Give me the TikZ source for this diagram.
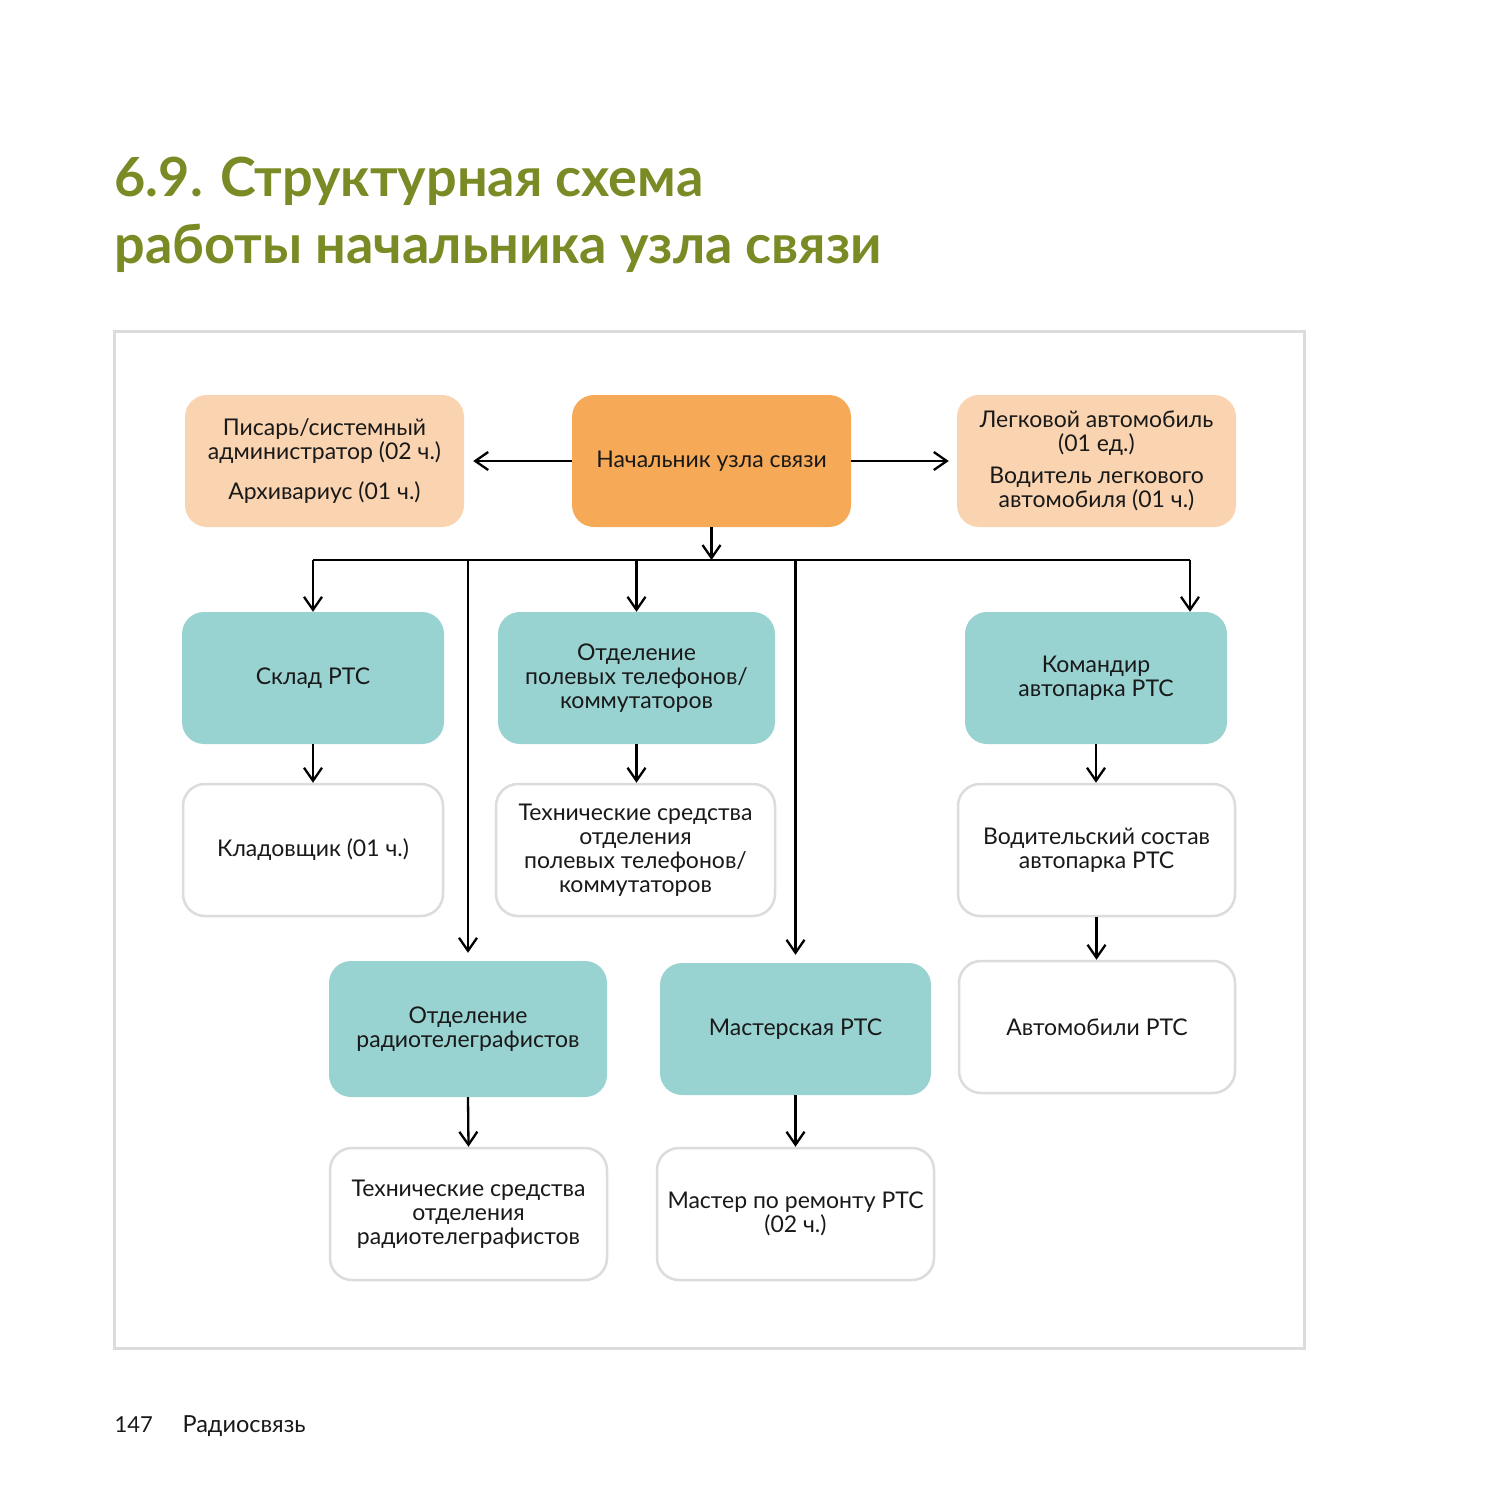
\documentclass[tikz,border=0pt]{standalone}
\usepackage{fontspec}
\setmainfont{Lato}
\usetikzlibrary{arrows.meta}
\definecolor{titlegreen}{RGB}{122,139,38}
\definecolor{chieforange}{RGB}{246,170,88}
\definecolor{peach}{RGB}{250,212,176}
\definecolor{unitteal}{RGB}{152,211,209}
\definecolor{framegray}{RGB}{220,220,220}
\definecolor{ink}{RGB}{25,25,25}

\begin{document}
\begin{tikzpicture}[x=1pt,y=-1pt,
  box/.style={rounded corners=22pt,minimum height=132pt,inner sep=0pt,align=center,
    text=ink,font=\fontsize{23}{24}\selectfont},
  chief/.style={box,fill=chieforange},
  side/.style={box,fill=peach},
  unit/.style={box,fill=unitteal},
  staff/.style={box,draw=framegray,line width=2.5pt,fill=white},
  link/.style={line width=2.3pt,-{Straight Barb[length=13pt,width=18pt]}},
  bus/.style={line width=2.6pt}]
\useasboundingbox[fill=white] (0,0) rectangle (1500,1500);

% title and frame
\node[anchor=base west,text=titlegreen,font=\fontsize{54}{58}\selectfont\bfseries] (title1) at (111,196) {6.9. Структурная схема};
\node[anchor=base west,text=titlegreen,font=\fontsize{54}{58}\selectfont\bfseries] (title2) at (111,263) {работы начальника узла связи};
\draw[framegray,line width=3pt] (114,331) rectangle (1304,1348);

% top row
\node[side,minimum width=279pt] (pisar) at (324.5,461) {Писарь/системный\\администратор (02 ч.)\\[16pt]Архивариус (01 ч.)};
\node[chief,minimum width=279pt] (nach) at (711.5,461) {Начальник узла связи};
\node[side,minimum width=279pt] (legk) at (1096.5,461) {Легковой автомобиль\\(01 ед.)\\[8pt]Водитель легкового\\автомобиля (01 ч.)};

% units
\node[unit,minimum width=262pt] (sklad) at (313,678) {Склад РТС};
\node[unit,minimum width=277pt] (otdpt) at (636.5,678) {Отделение\\полевых телефонов/\\коммутаторов};
\node[unit,minimum width=262pt] (komand) at (1096,678) {Командир\\автопарка РТС};
\node[staff,minimum width=260pt] (kladov) at (313,850) {Кладовщик (01 ч.)};
\node[staff,minimum width=279pt] (tech1) at (635.5,850) {Технические средства\\отделения\\полевых телефонов/\\коммутаторов};
\node[staff,minimum width=277pt] (vodsost) at (1096.5,850) {Водительский состав\\автопарка РТС};
\node[unit,minimum width=278pt,minimum height=136pt] (otdrt) at (468,1029) {Отделение\\радиотелеграфистов};
\node[unit,minimum width=271pt] (master) at (795.5,1029) {Мастерская РТС};
\node[staff,minimum width=276pt] (avto) at (1097,1027) {Автомобили РТС};
\node[staff,minimum width=277pt] (tech2) at (468.5,1214) {Технические средства\\отделения\\радиотелеграфистов};
\node[staff,minimum width=277pt] (mrem) at (795.5,1214) {Мастер по ремонту РТС\\(02 ч.)};

% connectors
\coordinate (busmid) at (711.5,560);
\coordinate (busleft) at (313,560);
\coordinate (busright) at (1190,560);
\draw[link] (nach.west) -- ([xshift=9pt]pisar.east);
\draw[link] (nach.east) -- ([xshift=-8pt]legk.west);
\draw[link] (nach.south) -- (busmid);
\draw[bus] (busleft) -- (busright);
\draw[link] (busleft) -- (sklad.north);
\draw[link] (otdpt.north |- busmid) -- (otdpt.north);
\draw[link] (busright) -- (busright |- komand.north);
\draw[link] (otdrt.north |- busmid) -- ([yshift=8pt]otdrt.north);
\draw[link] (master.north |- busmid) -- ([yshift=8pt]master.north);
\draw[link] (sklad.south) -- (kladov.north);
\draw[link] (otdpt.south) -- (otdpt.south |- tech1.north);
\draw[link] (komand.south) -- (komand.south |- vodsost.north);
\draw[link] (vodsost.south) -- (vodsost.south |- avto.north);
\draw[link] (otdrt.south) -- (tech2.north);
\draw[link] (master.south) -- (master.south |- mrem.north);

% footer
\node[anchor=base west,text=ink,font=\fontsize{22}{26}\selectfont] (page) at (111,1432) {147};
\node[anchor=base west,text=ink,font=\fontsize{23.5}{26}\selectfont] (book) at (179,1432) {Радиосвязь};
\end{tikzpicture}
\end{document}
